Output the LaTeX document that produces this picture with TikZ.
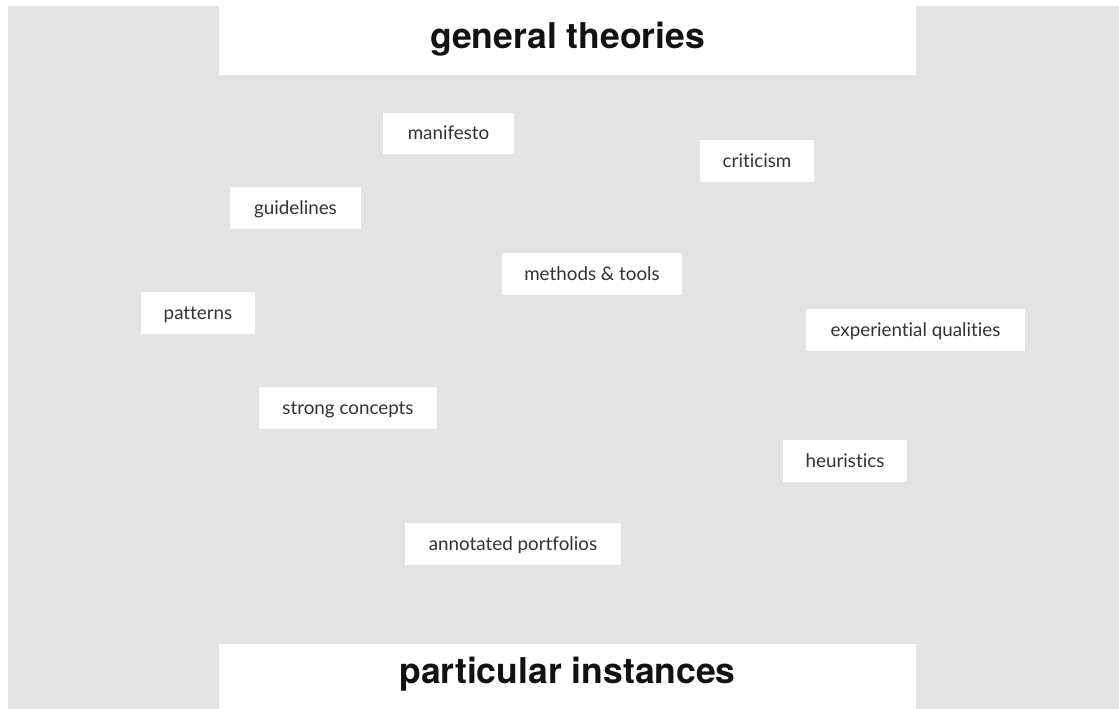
\documentclass[tikz,border=0pt]{standalone}
\usepackage{fontspec}
\setmainfont{Lato}[Ligatures=NoCommon]
\newfontfamily\titlefont{TeX Gyre Heros}
\begin{document}
\begin{tikzpicture}[x=1pt,y=-1pt,
  tag/.style={fill=white, inner sep=0pt, minimum height=42pt,
    text=labelgray, font=\fontsize{18.8}{20}\selectfont,
    text height=13.5pt, text depth=1.5pt},
  headbox/.style={fill=white, inner sep=0pt, minimum width=697pt,
    text=black!93, font=\titlefont\bfseries\fontsize{35.5}{38}\selectfont}]
\definecolor{labelgray}{HTML}{333333}
\definecolor{bggray}{HTML}{E3E3E3}
\useasboundingbox (0,0) rectangle (1119,709);
% backdrop
\fill[bggray] (8,6) rectangle (1119,709);
% headings
\node[headbox, minimum height=75pt, text height=24pt, text depth=2pt]
  (general) at (567.5,37.5) {general theories};
\node[headbox, minimum height=65pt, text height=24pt, text depth=10pt]
  (particular) at (567.5,676.5) {particular instances};
% knowledge forms
\node[tag, minimum width=131pt, minimum height=41pt] (manifesto) at (448.5,133.5) {manifesto};
\node[tag, minimum width=114pt] (criticism) at (757,161) {criticism};
\node[tag, minimum width=131pt] (guidelines) at (295.5,208) {guidelines};
\node[tag, minimum width=180pt] (methods) at (592,274) {methods \& tools};
\node[tag, minimum width=114pt] (patterns) at (198,313) {patterns};
\node[tag, minimum width=219pt] (experiential) at (915.5,330) {experiential qualities};
\node[tag, minimum width=178pt] (strong) at (348,408) {strong concepts};
\node[tag, minimum width=124pt] (heuristics) at (845,461) {heuristics};
\node[tag, minimum width=216pt] (annotated) at (513,544) {annotated portfolios};
\end{tikzpicture}
\end{document}
